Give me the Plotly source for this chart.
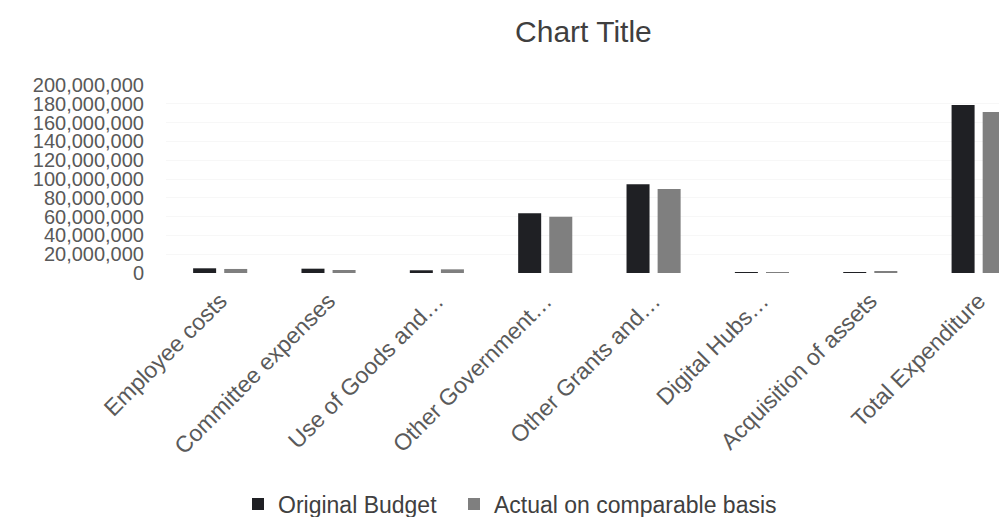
import plotly.graph_objects as go

categories = ["Employee costs", "Committee expenses", "Use of Goods and…", "Other Government…",
              "Other Grants and…", "Digital Hubs…", "Acquisition of assets", "Total Expenditure"]
original_budget = [5.0e6, 4.6e6, 2.9e6, 63.5e6, 94.4e6, 0.15e6, 1.0e6, 178.7e6]
actual_comparable = [4.3e6, 3.2e6, 3.9e6, 59.9e6, 89.4e6, 0.1e6, 2.0e6, 171.3e6]
y_ticks = [0, 20e6, 40e6, 60e6, 80e6, 100e6, 120e6, 140e6, 160e6, 180e6, 200e6]

FONT = "Liberation Sans, Arial, sans-serif"

fig = go.Figure()
fig.add_trace(go.Bar(name="Original Budget", x=categories, y=original_budget,
                     marker=dict(color="#1f2024", line=dict(width=0)), legend="legend"))
fig.add_trace(go.Bar(name="Actual on comparable basis", x=categories, y=actual_comparable,
                     marker=dict(color="#7f7f7f", line=dict(width=0)), legend="legend2"))

leg_common = dict(orientation="h", xref="container", xanchor="left",
                  yref="container", y=0.025, yanchor="middle",
                  font=dict(size=23, color="#404040"), itemsizing="constant",
                  entrywidth=0, bgcolor="rgba(0,0,0,0)")

fig.update_layout(
    width=999, height=517,
    margin=dict(l=166, r=0, t=85, b=244, pad=0),
    paper_bgcolor="white", plot_bgcolor="white",
    barmode="group", bargap=0.426, bargroupgap=0.26,
    font=dict(family=FONT, color="#595959"),
    title=dict(text="Chart Title", xref="container", x=0.584, xanchor="center",
               yref="container", y=0.94, yanchor="middle",
               font=dict(size=30, color="#3f3f3f", family=FONT)),
    showlegend=True,
    legend=dict(x=238 / 999, **leg_common),
    legend2=dict(x=454 / 999, **leg_common),
    xaxis=dict(range=[-0.5, 7.188], tickangle=-45, showgrid=False, showline=False,
               zeroline=False, ticks="", tickfont=dict(size=23, color="#5a5a5a"),
               automargin=False, ticklabelstandoff=9),
    yaxis=dict(range=[0, 200e6], tickvals=y_ticks, tickformat=",d", showgrid=True,
               gridcolor="#f7f7f7", gridwidth=1, zeroline=False, showline=False, ticks="",
               tickfont=dict(size=20, color="#595959"), automargin=False,
               ticklabelstandoff=21),
)

fig.write_html("out.html")
